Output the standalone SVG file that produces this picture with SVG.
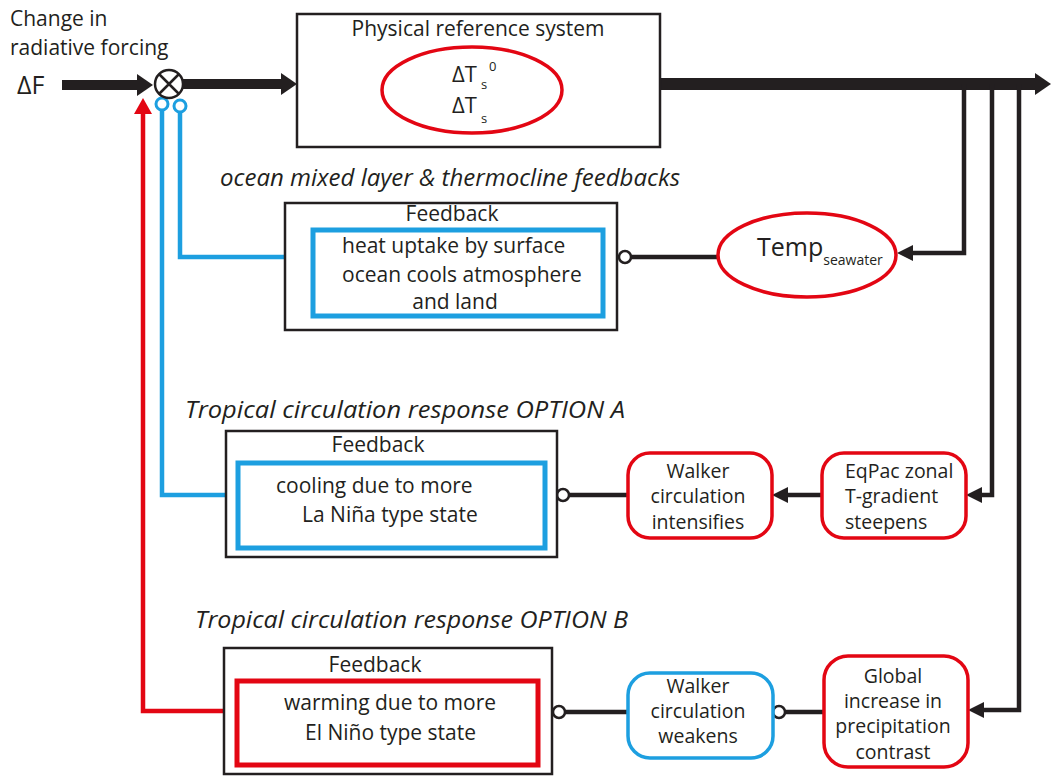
<svg xmlns="http://www.w3.org/2000/svg" width="1051" height="776" viewBox="0 0 1051 776">
<style>
text{font-family:"Open Sans","Noto Sans","Liberation Sans",sans-serif;fill:#231f20}
.t{font-size:21px}
.tc{font-size:21px;text-anchor:middle}
.s{font-size:19.5px}
.sc{font-size:19.5px;text-anchor:middle}
.h{font-size:24px;font-style:italic}
.box{fill:#fff;stroke:#231f20;stroke-width:2.5}
.inb{fill:none;stroke:#1d9fe0;stroke-width:5}
.inr{fill:none;stroke:#e30613;stroke-width:5}
.rr{fill:#fff;stroke:#e30613;stroke-width:3.5}
.rb{fill:#fff;stroke:#1d9fe0;stroke-width:3.5}
.ell{fill:#fff;stroke:#e30613;stroke-width:3.5}
.c{fill:none;stroke:#231f20;stroke-width:4.5}
.cb{fill:none;stroke:#1d9fe0;stroke-width:4.5}
.cr{fill:none;stroke:#e30613;stroke-width:4.5}
.oc{fill:#fff;stroke:#231f20;stroke-width:2.5}
.ocb{fill:#fff;stroke:#1d9fe0;stroke-width:3}
</style>
<defs>
<marker id="ahBig" markerUnits="userSpaceOnUse" markerWidth="16" markerHeight="22" refX="0" refY="11" orient="auto"><path d="M0,0 L16,11 L0,22 z" fill="#231f20"/></marker>
<marker id="ah" markerUnits="userSpaceOnUse" markerWidth="16" markerHeight="16" refX="0" refY="8" orient="auto"><path d="M0,0 L16,8 L0,16 z" fill="#231f20"/></marker>
<marker id="ahr" markerUnits="userSpaceOnUse" markerWidth="16" markerHeight="18" refX="0" refY="9" orient="auto"><path d="M0,0 L16,9 L0,18 z" fill="#e30613"/></marker>
</defs>

<g id="input-label">
<text class="t" x="10" y="26">Change in</text>
<text class="t" x="10" y="55">radiative forcing</text>
<text x="17" y="94" style="font-size:25px">ΔF</text>
</g>

<g id="connectors">
<path d="M62,85 H137" style="fill:none;stroke:#231f20;stroke-width:10" marker-end="url(#ahBig)"/>
<path d="M183,84 H281" style="fill:none;stroke:#231f20;stroke-width:10" marker-end="url(#ahBig)"/>
<path d="M660,84 H1035" style="fill:none;stroke:#231f20;stroke-width:12" marker-end="url(#ahBig)"/>
<path class="c" d="M964,84 V253 H913" marker-end="url(#ah)"/>
<path class="c" d="M992,84 V495 H982" marker-end="url(#ah)"/>
<path class="c" d="M1019,84 V710 H984" marker-end="url(#ah)"/>
<path class="c" d="M718,257 H631"/>
<circle class="oc" cx="625" cy="257" r="6"/>
<path class="c" d="M822,495 H788" marker-end="url(#ah)"/>
<path class="c" d="M628,495 H569"/>
<circle class="oc" cx="563" cy="495" r="6"/>
<path class="c" d="M824,712 H785"/>
<circle class="oc" cx="779" cy="712" r="6"/>
<path class="c" d="M628,712 H565"/>
<circle class="oc" cx="559" cy="712" r="6"/>
<path class="cb" d="M285,257 H180 V112"/>
<circle class="ocb" cx="180" cy="106" r="6"/>
<path class="cb" d="M226,495 H162 V110"/>
<circle class="ocb" cx="162" cy="104" r="6"/>
<path class="cr" d="M224,711 H143 V114" marker-end="url(#ahr)"/>
</g>

<g id="sum">
<circle cx="169" cy="84" r="14" fill="#fff" stroke="#231f20" stroke-width="2.5"/>
<path d="M159,74 L179,94 M179,74 L159,94" stroke="#231f20" stroke-width="2.5"/>
</g>

<g id="physical-reference-system">
<rect class="box" x="297" y="14" width="363" height="133"/>
<text class="tc" x="478" y="36">Physical reference system</text>
<ellipse class="ell" cx="472" cy="90" rx="90" ry="43"/>
<text x="452" y="82" style="font-size:22px">ΔT</text>
<text x="481" y="89" style="font-size:13px">s</text>
<text x="489" y="71" style="font-size:13px">0</text>
<text x="452" y="113" style="font-size:22px">ΔT</text>
<text x="481" y="123" style="font-size:13px">s</text>
</g>

<g id="heading-ocean">
<text class="h" x="220" y="186" textLength="460" lengthAdjust="spacingAndGlyphs">ocean mixed layer &amp; thermocline feedbacks</text>
</g>

<g id="feedback-ocean">
<rect class="box" x="285" y="203" width="332" height="127"/>
<text class="tc" x="452" y="221">Feedback</text>
<rect class="inb" x="313" y="230" width="290" height="86"/>
<text class="t" x="342" y="253">heat uptake by surface</text>
<text class="t" x="342" y="282">ocean cools atmosphere</text>
<text class="tc" x="455" y="309">and land</text>
</g>

<g id="temp-seawater">
<ellipse class="ell" cx="807" cy="255" rx="89" ry="42"/>
<text x="757" y="256" style="font-size:25px">Temp<tspan dy="9" style="font-size:14px">seawater</tspan></text>
</g>

<g id="heading-option-a">
<text class="h" x="185" y="418" textLength="440" lengthAdjust="spacingAndGlyphs">Tropical circulation response OPTION A</text>
</g>

<g id="feedback-option-a">
<rect class="box" x="226" y="431" width="331" height="126"/>
<text class="tc" x="378" y="452">Feedback</text>
<rect class="inb" x="238" y="463" width="307" height="85"/>
<text class="t" x="276" y="493">cooling due to more</text>
<text class="t" x="302" y="522">La Niña type state</text>
</g>

<g id="walker-intensifies">
<rect class="rr" x="628" y="453" width="144" height="85" rx="22"/>
<text class="sc" x="698" y="478">Walker</text>
<text class="sc" x="698" y="503">circulation</text>
<text class="sc" x="698" y="529">intensifies</text>
</g>

<g id="eqpac">
<rect class="rr" x="822" y="453" width="144" height="85" rx="22"/>
<text class="s" x="845" y="478">EqPac zonal</text>
<text class="s" x="845" y="503">T-gradient</text>
<text class="s" x="845" y="529">steepens</text>
</g>

<g id="heading-option-b">
<text class="h" x="195" y="628" textLength="433" lengthAdjust="spacingAndGlyphs">Tropical circulation response OPTION B</text>
</g>

<g id="feedback-option-b">
<rect class="box" x="224" y="648" width="328" height="126"/>
<text class="tc" x="375" y="672">Feedback</text>
<rect class="inr" x="237" y="681" width="301" height="84"/>
<text class="t" x="284" y="710">warming due to more</text>
<text class="t" x="305" y="740">El Niño type state</text>
</g>

<g id="walker-weakens">
<rect class="rb" x="628" y="673" width="145" height="85" rx="22"/>
<text class="sc" x="698" y="693">Walker</text>
<text class="sc" x="698" y="718">circulation</text>
<text class="sc" x="698" y="743">weakens</text>
</g>

<g id="global-precip">
<rect class="rr" x="824" y="656" width="144" height="111" rx="24"/>
<text class="sc" x="893" y="683">Global</text>
<text class="sc" x="893" y="708">increase in</text>
<text class="sc" x="893" y="733">precipitation</text>
<text class="sc" x="893" y="759">contrast</text>
</g>
</svg>
